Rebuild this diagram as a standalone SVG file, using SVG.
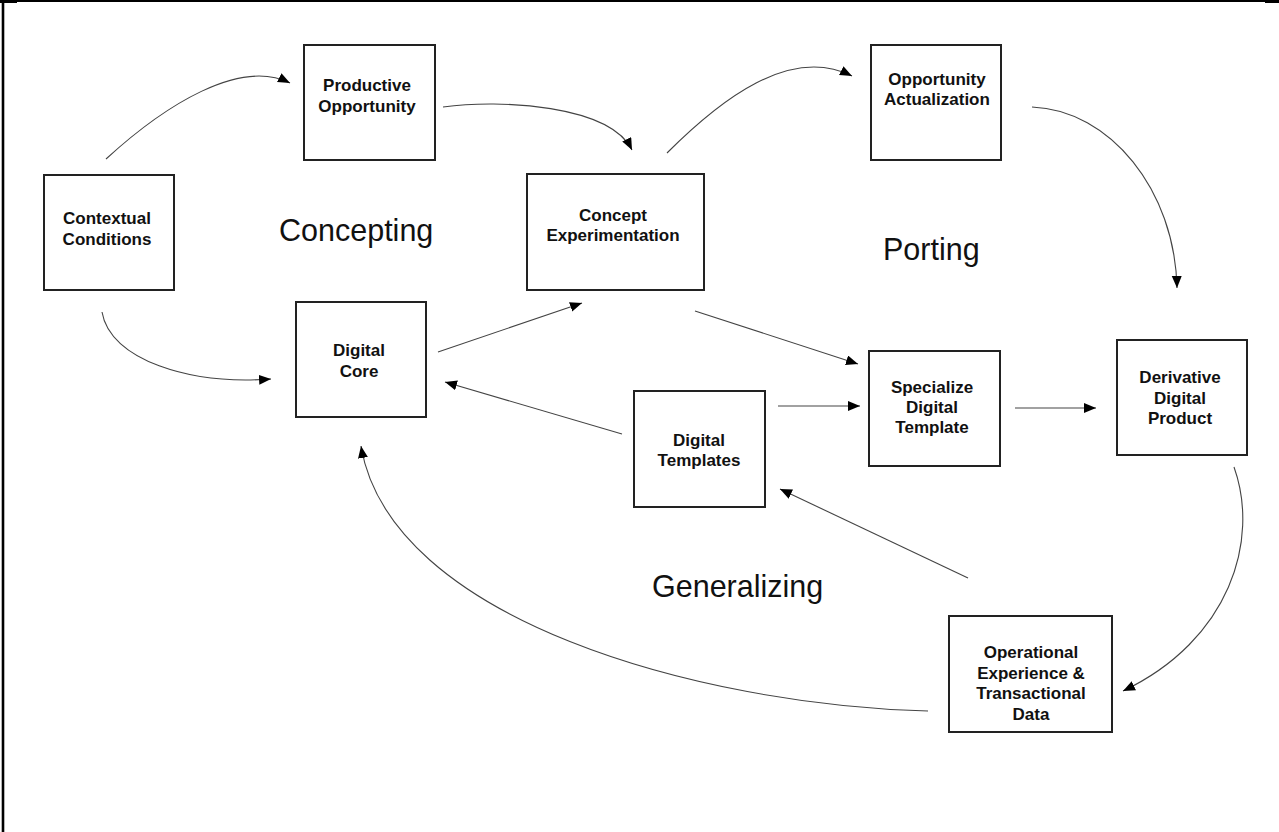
<svg xmlns="http://www.w3.org/2000/svg" width="1279" height="832" viewBox="0 0 1279 832">
<style>
.box{fill:#fff;stroke:#222;stroke-width:2}
.nt{font-family:"Liberation Sans",Arial,sans-serif;font-weight:bold;font-size:17px;fill:#111;text-anchor:middle}
.lbl{font-family:"Liberation Sans",Arial,sans-serif;font-size:30.5px;fill:#111}
.c{fill:none;stroke:#444;stroke-width:1.1;marker-end:url(#ah)}
</style>
<defs>
<marker id="ah" markerUnits="userSpaceOnUse" markerWidth="13" markerHeight="11" refX="12" refY="5" orient="auto">
<path d="M0,0 L12,5 L0,10 z" fill="#000"/>
</marker>
</defs>
<rect width="1279" height="832" fill="#fff"/>
<g id="frame">
<line x1="0" y1="1" x2="1279" y2="1" stroke="#000" stroke-width="2"/>
<line x1="3" y1="0" x2="3" y2="832" stroke="#000" stroke-width="2.6"/>
<rect x="0" y="0" width="17" height="3" fill="#000"/>
<rect x="1265" y="0" width="14" height="3" fill="#000"/>
</g>
<g id="connectors">
<path class="c" d="M106,159 C165,105 240,58 290,83"/>
<path class="c" d="M443,107 C500,99 610,105 632,150"/>
<path class="c" d="M667,153 C720,100 790,45 852,76"/>
<path class="c" d="M1032,107 C1110,110 1175,190 1177,288"/>
<path class="c" d="M102,312 C110,360 190,385 271,379"/>
<path class="c" d="M438,352 L582,303"/>
<path class="c" d="M695,311 L858,364"/>
<path class="c" d="M622,434 L445,382"/>
<path class="c" d="M778,406 L860,406"/>
<path class="c" d="M1015,408 L1096,408"/>
<path class="c" d="M1234,467 C1260,540 1230,640 1123,691"/>
<path class="c" d="M968,578 L780,489"/>
<path class="c" d="M928,711 C700,705 390,620 361,446"/>
</g>
<g id="contextual-conditions">
<rect class="box" x="44" y="175" width="130" height="115"/>
<text class="nt" x="107" y="224">Contextual</text>
<text class="nt" x="107" y="245">Conditions</text>
</g>
<g id="productive-opportunity">
<rect class="box" x="304" y="45" width="131" height="115"/>
<text class="nt" x="367" y="91">Productive</text>
<text class="nt" x="367" y="112">Opportunity</text>
</g>
<g id="concept-experimentation">
<rect class="box" x="527" y="174" width="177" height="116"/>
<text class="nt" x="613" y="221">Concept</text>
<text class="nt" x="613" y="241">Experimentation</text>
</g>
<g id="opportunity-actualization">
<rect class="box" x="871" y="45" width="130" height="115"/>
<text class="nt" x="937" y="85">Opportunity</text>
<text class="nt" x="937" y="105">Actualization</text>
</g>
<g id="digital-core">
<rect class="box" x="296" y="302" width="130" height="115"/>
<text class="nt" x="359" y="356">Digital</text>
<text class="nt" x="359" y="377">Core</text>
</g>
<g id="digital-templates">
<rect class="box" x="634" y="391" width="131" height="116"/>
<text class="nt" x="699" y="446">Digital</text>
<text class="nt" x="699" y="466">Templates</text>
</g>
<g id="specialize-digital-template">
<rect class="box" x="869" y="351" width="131" height="115"/>
<text class="nt" x="932" y="393">Specialize</text>
<text class="nt" x="932" y="413">Digital</text>
<text class="nt" x="932" y="433">Template</text>
</g>
<g id="derivative-digital-product">
<rect class="box" x="1117" y="340" width="130" height="115"/>
<text class="nt" x="1180" y="383">Derivative</text>
<text class="nt" x="1180" y="404">Digital</text>
<text class="nt" x="1180" y="424">Product</text>
</g>
<g id="operational-experience">
<rect class="box" x="949" y="616" width="163" height="116"/>
<text class="nt" x="1031" y="658">Operational</text>
<text class="nt" x="1031" y="679">Experience &amp;</text>
<text class="nt" x="1031" y="699">Transactional</text>
<text class="nt" x="1031" y="720">Data</text>
</g>
<g id="phase-labels">
<text class="lbl" x="279" y="241">Concepting</text>
<text class="lbl" x="883" y="260">Porting</text>
<text class="lbl" x="652" y="597">Generalizing</text>
</g>
</svg>
